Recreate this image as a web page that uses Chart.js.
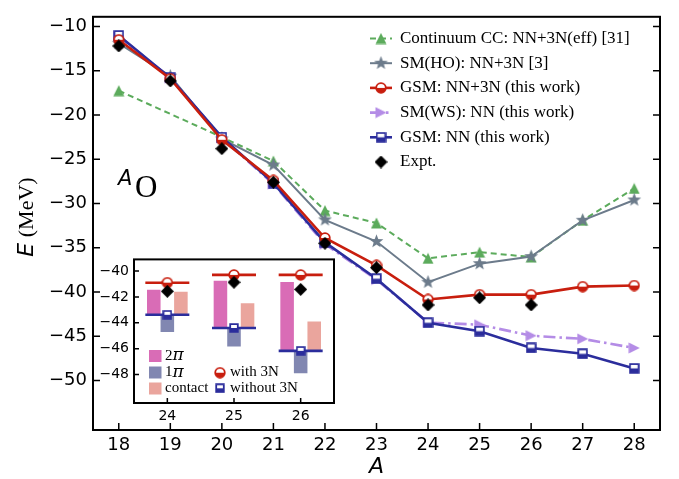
<!DOCTYPE html>
<html>
<head>
<meta charset="utf-8">
<script src="https://cdn.jsdelivr.net/npm/chart.js@4.4.1/dist/chart.umd.min.js"></script>
<style>
html, body { margin: 0; padding: 0; background: #fff; }
#contenitore { position: relative; width: 679px; height: 479px; }
#grafico { position: absolute; left: 0; top: 0; }
#riquadro { position: absolute; left: 95px; top: 246px; }
</style>
</head>
<body>
<div id="contenitore">
  <canvas id="grafico" width="679" height="479"></canvas>
  <canvas id="riquadro" width="245" height="180"></canvas>
</div>
<script>
// numeri di massa degli isotopi dell'ossigeno
var massa = [18, 19, 20, 21, 22, 23, 24, 25, 26, 27, 28];
// energie (MeV)
var cc_eff = [-17.25, null, -22.5, -25.2, -30.8, -32.2, -36.2, -35.5, -36.05, -31.9, -28.3];
var sm_ho = [-11.9, -15.6, -22.7, -25.65, -31.85, -34.3, -38.9, -36.8, -36.0, -31.9, -29.6];
var gsm_nn_3n = [-11.5, -15.9, -22.8, -27.4, -33.9, -37.0, -40.85, -40.3, -40.3, -39.4, -39.27];
var sm_ws = [-11.1, -15.8, -22.6, -27.8, -34.6, -38.6, -43.45, -43.7, -44.94, -45.3, -46.33];
var gsm_nn = [-11.0, -15.8, -22.5, -27.7, -34.4, -38.5, -43.48, -44.43, -46.33, -46.99, -48.64];
var esperimento = [-12.2, -16.15, -23.8, -27.6, -34.5, -37.25, -41.47, -40.66, -41.47, null, null];
var tacche_x = [18, 19, 20, 21, 22, 23, 24, 25, 26, 27, 28];
var tacche_y = [-50, -45, -40, -35, -30, -25, -20, -15, -10];

// dati del riquadro interno
var massa_riquadro = [24, 25, 26];
var due_pi = [[-41.44, -43.38], [-40.75, -44.4], [-40.84, -46.17]];
var uno_pi = [[-43.38, -44.72], [-44.4, -45.84], [-46.17, -47.91]];
var contatto = [[-41.61, -43.38], [-42.49, -44.4], [-43.9, -46.17]];
var con_3n = [-40.9, -40.3, -40.3];
var senza_3n = [-43.38, -44.4, -46.17];
var esperimento_riquadro = [-41.57, -40.87, -41.42];
var tacche_x_riquadro = [24, 25, 26];
var tacche_y_riquadro = [-48, -46, -44, -42, -40];

var rosso = '#c81e0e', blu = '#2b2d9c', verde = '#5cab5c', grigio = '#6c7b8b', viola = '#b48ce6';

// disegno i marcatori su piccoli canvas
function nuovo_marcatore(forma, colore, lato) {
    var c = document.createElement('canvas');
    c.width = lato; c.height = lato;
    var g = c.getContext('2d');
    var m = lato / 2;
    g.fillStyle = colore; g.strokeStyle = colore;
    if (forma === 'triangolo') {
        g.beginPath(); g.moveTo(m, 0.5); g.lineTo(lato - 0.5, lato - 0.5); g.lineTo(0.5, lato - 0.5); g.closePath(); g.fill();
    } else if (forma === 'freccia') {
        g.beginPath(); g.moveTo(lato - 0.5, m); g.lineTo(0.5, 0.5); g.lineTo(0.5, lato - 0.5); g.closePath(); g.fill();
    } else if (forma === 'rombo') {
        g.beginPath(); g.moveTo(m, 0); g.lineTo(lato, m); g.lineTo(m, lato); g.lineTo(0, m); g.closePath(); g.fill();
    } else if (forma === 'stella') {
        var R = m - 0.3, r = R * 0.42;
        g.beginPath();
        for (var k = 0; k < 10; k++) {
            var ang = -Math.PI / 2 + k * Math.PI / 5;
            var rr = (k % 2 === 0) ? R : r;
            g.lineTo(m + rr * Math.cos(ang), m + rr * Math.sin(ang));
        }
        g.closePath(); g.fill();
    } else if (forma === 'cerchio' || forma === 'quadrato') {
        var lw = 1.8, raggio = m - lw / 2 - 0.3;
        var percorso = function() {
            g.beginPath();
            if (forma === 'cerchio') g.arc(m, m, raggio, 0, 2 * Math.PI);
            else g.rect(m - raggio, m - raggio, 2 * raggio, 2 * raggio);
        };
        percorso(); g.fillStyle = '#fff'; g.fill();
        g.save(); g.beginPath(); g.rect(0, m, lato, m); g.clip();
        percorso(); g.fillStyle = colore; g.fill(); g.restore();
        percorso(); g.lineWidth = lw; g.stroke();
    }
    return c;
}

var m_triangolo = nuovo_marcatore('triangolo', verde, 12);
var m_stella = nuovo_marcatore('stella', grigio, 15);
var m_cerchio = nuovo_marcatore('cerchio', rosso, 12);
var m_freccia = nuovo_marcatore('freccia', viola, 12);
var m_quadrato = nuovo_marcatore('quadrato', blu, 11);
var m_rombo = nuovo_marcatore('rombo', '#000', 13);
var m_cerchio_p = nuovo_marcatore('cerchio', rosso, 12);
var m_quadrato_p = nuovo_marcatore('quadrato', blu, 10);

function punti(serie) {
    return massa.map(function(a, i) { return { x: a, y: serie[i] }; });
}
function meno(v) { return String(v).replace('-', '\u2212'); }

// cornice e tacche verso l'interno
function cornice(lunghezza, destra) {
    return {
        id: 'cornice',
        afterDraw: function(chart) {
            var ctx = chart.ctx, area = chart.chartArea;
            var sx = chart.scales.x, sy = chart.scales.y;
            ctx.save();
            ctx.strokeStyle = '#000';
            ctx.lineWidth = 1.5;
            ctx.beginPath();
            sx.ticks.forEach(function(t) {
                var px = sx.getPixelForValue(t.value);
                ctx.moveTo(px, area.bottom); ctx.lineTo(px, area.bottom - lunghezza);
            });
            sy.ticks.forEach(function(t) {
                var py = sy.getPixelForValue(t.value);
                ctx.moveTo(area.left, py); ctx.lineTo(area.left + lunghezza, py);
                if (destra) { ctx.moveTo(area.right, py); ctx.lineTo(area.right - lunghezza, py); }
            });
            ctx.stroke();
            ctx.lineWidth = 2;
            ctx.strokeRect(area.left, area.top, area.width, area.height);
            ctx.restore();
        }
    };
}

// legenda, titoli degli assi e etichetta ^A O
var testi_principali = {
    id: 'testi_principali',
    afterDraw: function(chart) {
        var ctx = chart.ctx;
        ctx.save();
        ctx.textBaseline = 'middle';
        ctx.fillStyle = '#000';
        ctx.font = '17px "Liberation Serif"';
        chart.data.datasets.forEach(function(ds, i) {
            var y = 38.5 + i * 24.7;
            if (ds.showLine !== false) {
                ctx.strokeStyle = ds.borderColor;
                ctx.lineWidth = ds.borderWidth;
                ctx.setLineDash(ds.borderDash || []);
                ctx.beginPath(); ctx.moveTo(370, y); ctx.lineTo(392, y); ctx.stroke();
                ctx.setLineDash([]);
            }
            var img = ds.pointStyle;
            ctx.drawImage(img, 381 - img.width / 2, y - img.height / 2);
            ctx.fillText(ds.label, 400, y);
        });
        // titolo asse x
        ctx.textBaseline = 'alphabetic';
        ctx.textAlign = 'center';
        ctx.font = 'italic 22px "DejaVu Sans"';
        ctx.fillText('A', (chart.chartArea.left + chart.chartArea.right) / 2, 473);
        // titolo asse y
        ctx.textAlign = 'left';
        ctx.save();
        ctx.translate(33, 217);
        ctx.rotate(-Math.PI / 2);
        ctx.font = 'italic 22px "DejaVu Sans"';
        var w1 = ctx.measureText('E').width;
        ctx.font = '22px "Liberation Serif"';
        var w2 = ctx.measureText(' (MeV)').width;
        ctx.font = 'italic 22px "DejaVu Sans"';
        ctx.fillText('E', -(w1 + w2) / 2, 0);
        ctx.font = '22px "Liberation Serif"';
        ctx.fillText(' (MeV)', -(w1 + w2) / 2 + w1, 0);
        ctx.restore();
        // etichetta del nucleo
        ctx.font = 'italic 21px "DejaVu Sans"';
        ctx.fillText('A', 118, 185);
        ctx.font = '31px "Liberation Serif"';
        ctx.fillText('O', 135, 197);
        ctx.restore();
    }
};

new Chart(document.getElementById('grafico'), {
    type: 'line',
    data: {
        datasets: [
            { label: 'Continuum CC: NN+3N(eff) [31]', data: punti(cc_eff), borderColor: verde, borderWidth: 2,
              borderDash: [6, 4], pointStyle: m_triangolo, pointRadius: 6, spanGaps: true, order: 5 },
            { label: 'SM(HO): NN+3N [3]', data: punti(sm_ho), borderColor: grigio, borderWidth: 2,
              pointStyle: m_stella, pointRadius: 6, order: 4 },
            { label: 'GSM: NN+3N (this work)', data: punti(gsm_nn_3n), borderColor: rosso, borderWidth: 2.6,
              pointStyle: m_cerchio, pointRadius: 6, order: 1 },
            { label: 'SM(WS): NN (this work)', data: punti(sm_ws), borderColor: viola, borderWidth: 2.6,
              borderDash: [12, 4, 2.5, 4], pointStyle: m_freccia, pointRadius: 6, order: 3 },
            { label: 'GSM: NN (this work)', data: punti(gsm_nn), borderColor: blu, borderWidth: 2.6,
              pointStyle: m_quadrato, pointRadius: 6, order: 2 },
            { label: 'Expt.', data: punti(esperimento), showLine: false, pointStyle: m_rombo, pointRadius: 6, order: 0 }
        ]
    },
    options: {
        responsive: false,
        animation: false,
        events: [],
        layout: { padding: { top: 4, right: 19, left: 0, bottom: 0 } },
        plugins: { legend: { display: false }, tooltip: { enabled: false } },
        scales: {
            x: {
                type: 'linear', min: 17.5, max: 28.5,
                grid: { display: false, drawTicks: false }, border: { display: false },
                afterBuildTicks: function(s) { s.ticks = tacche_x.map(function(v) { return { value: v }; }); },
                afterFit: function(s) { s.height = 49; },
                ticks: { font: { family: 'DejaVu Sans', size: 18 }, color: '#000', padding: 5, maxRotation: 0, autoSkip: false }
            },
            y: {
                type: 'linear', min: -55.6, max: -8.9,
                grid: { display: false, drawTicks: false }, border: { display: false },
                afterBuildTicks: function(s) { s.ticks = tacche_y.map(function(v) { return { value: v }; }); },
                afterFit: function(s) { s.width = 93; },
                ticks: { font: { family: 'DejaVu Sans', size: 18 }, color: '#000', padding: 6, autoSkip: false,
                         callback: function(v) { return meno(v); } }
            }
        }
    },
    plugins: [cornice(7, true), testi_principali]
});

// riquadro: contributi 2pi, 1pi e contatto
function barre(intervalli) {
    return massa_riquadro.map(function(a, i) { return { x: a, y: intervalli[i] }; });
}
function segmenti(valori) {
    var out = [];
    massa_riquadro.forEach(function(a, i) {
        out.push({ x: a - 0.33, y: valori[i] });
        out.push({ x: a + 0.33, y: valori[i] });
        out.push({ x: a + 0.5, y: null });
    });
    return out;
}
function centri(valori) {
    return massa_riquadro.map(function(a, i) { return { x: a, y: valori[i] }; });
}

var sfondo_bianco = {
    id: 'sfondo_bianco',
    beforeDraw: function(chart) {
        var a = chart.chartArea;
        chart.ctx.save();
        chart.ctx.fillStyle = '#fff';
        chart.ctx.fillRect(a.left, a.top, a.width, a.height);
        chart.ctx.restore();
    }
};

var legenda_riquadro = {
    id: 'legenda_riquadro',
    afterDraw: function(chart) {
        var ctx = chart.ctx;
        ctx.save();
        ctx.textBaseline = 'middle';
        ctx.fillStyle = '#000';
        var voci = [['#d96cb6', '2', '\u03c0', 110], ['#8187b1', '1', '\u03c0', 126.5], ['#eaa59d', 'contact', '', 142.5]];
        voci.forEach(function(v) {
            ctx.fillStyle = v[0];
            ctx.fillRect(54, v[3] - 6, 12.5, 12);
            ctx.fillStyle = '#000';
            ctx.font = '15px "Liberation Serif"';
            ctx.fillText(v[1], 70, v[3]);
            if (v[2]) {
                var w = ctx.measureText(v[1]).width;
                ctx.font = 'italic 17px "DejaVu Serif"';
                ctx.fillText(v[2], 70 + w, v[3]);
            }
        });
        ctx.font = '15px "Liberation Serif"';
        ctx.drawImage(m_cerchio_p, 125 - m_cerchio_p.width / 2, 126.7 - m_cerchio_p.height / 2);
        ctx.fillText('with 3N', 135, 126.5);
        ctx.drawImage(m_quadrato_p, 125 - m_quadrato_p.width / 2, 142.3 - m_quadrato_p.height / 2);
        ctx.fillText('without 3N', 135, 142.5);
        ctx.restore();
    }
};

new Chart(document.getElementById('riquadro'), {
    type: 'bar',
    data: {
        datasets: [
            { label: '2pi', data: barre(due_pi), backgroundColor: '#d96cb6', order: 10 },
            { label: '1pi', data: barre(uno_pi), backgroundColor: '#8187b1', order: 10 },
            { label: 'contact', data: barre(contatto), backgroundColor: '#eaa59d', order: 10 },
            { type: 'line', label: 'with 3N', data: segmenti(con_3n), borderColor: rosso, borderWidth: 2.6, pointRadius: 0, order: 5 },
            { type: 'line', label: 'without 3N', data: segmenti(senza_3n), borderColor: blu, borderWidth: 2.6, pointRadius: 0, order: 5 },
            { type: 'line', label: 'with 3N', data: centri(con_3n), showLine: false, pointStyle: m_cerchio_p, pointRadius: 5, order: 2 },
            { type: 'line', label: 'without 3N', data: centri(senza_3n), showLine: false, pointStyle: m_quadrato_p, pointRadius: 5, order: 2 },
            { type: 'line', label: 'Expt.', data: centri(esperimento_riquadro), showLine: false, pointStyle: m_rombo, pointRadius: 5, order: 1 }
        ]
    },
    options: {
        responsive: false,
        animation: false,
        events: [],
        layout: { padding: { top: 8, right: 6, left: 0, bottom: 0 } },
        plugins: { legend: { display: false }, tooltip: { enabled: false } },
        datasets: { bar: { categoryPercentage: 0.61, barPercentage: 1, borderWidth: 0, grouped: true } },
        scales: {
            x: {
                type: 'linear', min: 23.5, max: 26.5, offset: false,
                grid: { display: false, drawTicks: false, offset: false }, border: { display: false },
                afterBuildTicks: function(s) { s.ticks = tacche_x_riquadro.map(function(v) { return { value: v }; }); },
                afterFit: function(s) { s.height = 23; },
                ticks: { font: { family: 'DejaVu Sans', size: 14 }, color: '#000', padding: 5, maxRotation: 0, autoSkip: false }
            },
            y: {
                type: 'linear', min: -50.2, max: -39.1, beginAtZero: false,
                grid: { display: false, drawTicks: false }, border: { display: false },
                afterBuildTicks: function(s) { s.ticks = tacche_y_riquadro.map(function(v) { return { value: v }; }); },
                afterFit: function(s) { s.width = 39; },
                ticks: { font: { family: 'DejaVu Sans', size: 14 }, color: '#000', padding: 5, autoSkip: false,
                         callback: function(v) { return meno(v); } }
            }
        }
    },
    plugins: [sfondo_bianco, cornice(5, false), legenda_riquadro]
});
</script>
</body>
</html>
